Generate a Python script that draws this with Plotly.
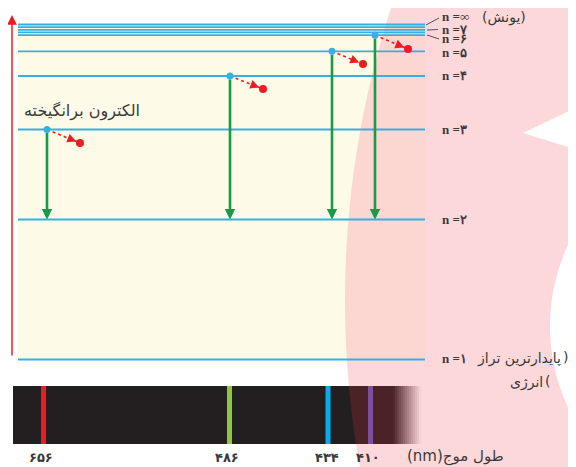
import numpy as np
import plotly.graph_objects as go

W, H = 576, 467
PAGE_MARGIN = 8  # default body margin of the html page
FA = str.maketrans("0123456789", "۰۱۲۳۴۵۶۷۸۹")

# ---- data ----
# energy levels: schematic vertical position (px from top of the window)
level_n = ["∞", "9", "8", "7", "6", "5", "4", "3", "2", "1"]
level_y = [24.5, 27.2, 29.8, 32.4, 35.2, 51.3, 76.0, 129.5, 219.5, 359.5]
level_x_start, level_x_end = 18, 425

# labelled levels and where their labels sit
label_n = ["∞", "7", "6", "5", "4", "3", "2", "1"]
label_y = [16.5, 29, 38.5, 52.5, 75.5, 129.5, 219.5, 358]

# Balmer transitions (upper level -> n=2)
trans_upper = ["3", "4", "5", "6"]
trans_x = [47, 230, 332, 375]
electron_end_x = [80, 263, 363, 408]
electron_end_y = [143, 89, 64, 49]

# emission spectrum
wavelengths = [656, 486, 434, 410]
spec_x = [43.5, 229.5, 328, 370.5]
spec_label_x = [41, 227, 327, 368]
spec_colors = ["#ed1c24", "#8dc63f", "#00aeef", "#7f4f9f"]

BLUE = "#35b0e5"
RED = "#ed1c24"
GREEN = "#1a9a48"
TXT = "#3a3a3a"

lvl = dict(zip(level_n, level_y))

fig = go.Figure()
shapes = []

# pale yellow panel
shapes.append(dict(type="rect", xref="x", yref="y", x0=18, x1=425, y0=24, y1=359.5,
                   fillcolor="#fdfbe7", line=dict(width=0), layer="below"))
# large pink disc
CX, CY, R = 1295, 300, 950
shapes.append(dict(type="circle", xref="x", yref="y", x0=CX - R, x1=CX + R, y0=CY - R, y1=CY + R,
                   fillcolor="rgba(252,190,193,0.6)", line=dict(width=0), layer="below"))
# white triangle and white arc on the right
shapes.append(dict(type="path", xref="x", yref="y", path="M 523,133 L 571,110 L 571,148 Z",
                   fillcolor="white", line=dict(width=0), layer="below"))
shapes.append(dict(type="circle", xref="x", yref="y", x0=550, x1=934, y0=134, y1=518,
                   fillcolor="white", line=dict(width=0), layer="below"))
# spectrum bar
BY0, BY1, BX0, BX1 = 386, 444, 13, 393
shapes.append(dict(type="rect", xref="x", yref="y", x0=BX0, x1=BX1, y0=BY0, y1=BY1,
                   fillcolor="#231f20", line=dict(width=0), layer="below"))
ys = np.linspace(BY0, BY1, 12)
xs = CX - np.sqrt(R ** 2 - (ys - CY) ** 2)
p = "M " + " L ".join(f"{x:.1f},{y:.1f}" for x, y in zip(xs, ys))
p += f" L {BX1},{BY1} L {BX1},{BY0} Z"
shapes.append(dict(type="path", xref="x", yref="y", path=p,
                   fillcolor="#4b2327", line=dict(width=0), layer="below"))
c0 = np.array([75, 34, 38]); c1 = np.array([253, 216, 218])
nstep = 14
for i in range(nstep):
    t = (i + 0.5) / nstep
    c = (c0 * (1 - t) + c1 * t).astype(int)
    shapes.append(dict(type="rect", xref="x", yref="y", x0=BX1 + 2 * i, x1=BX1 + 2 * i + 2.2,
                       y0=BY0, y1=BY1, fillcolor=f"rgb({c[0]},{c[1]},{c[2]})",
                       line=dict(width=0), layer="below"))

# leader lines for crowded top labels
for (x0, y0, x1, y1) in [(426, 25, 439, 18), (427, 30, 438, 29.5), (427, 35, 439, 39)]:
    shapes.append(dict(type="line", xref="x", yref="y", x0=x0, y0=y0, x1=x1, y1=y1,
                       line=dict(color="#555", width=1)))

# energy level lines
lx, ly = [], []
for y in level_y:
    lx += [level_x_start, level_x_end, None]
    ly += [y, y, None]
fig.add_trace(go.Scatter(x=lx, y=ly, mode="lines", line=dict(color=BLUE, width=1.8),
                         hoverinfo="skip"))

# spectrum lines
for x, c in zip(spec_x, spec_colors):
    fig.add_trace(go.Scatter(x=[x, x], y=[BY0, BY1], mode="lines",
                             line=dict(color=c, width=5), hoverinfo="skip"))

# electrons leaving (dotted red paths)
for x, u, ex, ey in zip(trans_x, trans_upper, electron_end_x, electron_end_y):
    fig.add_trace(go.Scatter(x=[x, ex], y=[lvl[u], ey], mode="lines",
                             line=dict(color=RED, width=1.6, dash="dot"), hoverinfo="skip"))

annotations = []
# energy axis arrow
annotations.append(dict(x=12, y=15, ax=12, ay=357, xref="x", yref="y", axref="x", ayref="y",
                        text="", showarrow=True, arrowhead=2, arrowsize=1.3, arrowwidth=1.5,
                        arrowcolor=RED))
# green transition arrows
for x, u in zip(trans_x, trans_upper):
    annotations.append(dict(x=x, y=lvl["2"], ax=x, ay=lvl[u], xref="x", yref="y",
                            axref="x", ayref="y", text="", showarrow=True, arrowhead=2,
                            arrowsize=0.8, arrowwidth=2.6, arrowcolor=GREEN, startstandoff=2))
# small red arrowheads on electron paths
for x, u, ex, ey in zip(trans_x, trans_upper, electron_end_x, electron_end_y):
    y0 = lvl[u]
    d = np.hypot(ex - x, ey - y0)
    ux, uy = (ex - x) / d, (ey - y0) / d
    tx, ty = ex - 4 * ux, ey - 4 * uy
    annotations.append(dict(x=tx, y=ty, ax=tx - 8 * ux, ay=ty - 8 * uy, xref="x", yref="y",
                            axref="x", ayref="y", text="", showarrow=True, arrowhead=2,
                            arrowsize=1.5, arrowwidth=1.2, arrowcolor=RED))

# electron dots
fig.add_trace(go.Scatter(x=trans_x, y=[lvl[u] for u in trans_upper], mode="markers",
                         marker=dict(color=BLUE, size=7), hoverinfo="skip"))
fig.add_trace(go.Scatter(x=electron_end_x, y=electron_end_y, mode="markers",
                         marker=dict(color=RED, size=8), hoverinfo="skip"))

# level labels
for n, y in zip(label_n, label_y):
    annotations.append(dict(x=440, y=y, xref="x", yref="y", xanchor="left", yanchor="middle",
                            text=f"<b>n ={n.translate(FA)}</b>", showarrow=False,
                            font=dict(family="Liberation Serif, DejaVu Serif", size=13, color=TXT)))
annotations.append(dict(x=480, y=17, xref="x", yref="y", xanchor="left", yanchor="middle",
                        text="(یونش)", showarrow=False,
                        font=dict(family="DejaVu Sans", size=14, color=TXT)))

def txt(x, y, s, anchor, size=14):
    annotations.append(dict(x=x, y=y, xref="x", yref="y", xanchor=anchor, yanchor="middle",
                            text=s, showarrow=False,
                            font=dict(family="DejaVu Sans", size=size, color=TXT)))

# "(پایدارترین تراز انرژی)" split over two lines, parentheses placed explicitly
txt(563, 358, "پایدارترین تراز", "right")
txt(561, 357, ")", "left")
txt(545, 382, "انرژی", "right")
txt(543, 381, "(", "left")
txt(82, 111, "الکترون برانگیخته", "center", 16)

# spectrum tick labels
for x, wl in zip(spec_label_x, wavelengths):
    annotations.append(dict(x=x, y=457, xref="x", yref="y", xanchor="center", yanchor="middle",
                            text=f"<b>{str(wl).translate(FA)}</b>", showarrow=False,
                            font=dict(family="DejaVu Sans", size=13, color=TXT)))
annotations.append(dict(x=506, y=456, xref="x", yref="y", xanchor="right", yanchor="middle",
                        text="(nm)طول موج", showarrow=False,
                        font=dict(family="DejaVu Sans", size=15, color=TXT)))

# the page has an 8px body margin, so the figure is offset by it; compensate
fig.update_layout(
    width=W - PAGE_MARGIN, height=H - PAGE_MARGIN, margin=dict(l=0, r=0, t=0, b=0),
    paper_bgcolor="white", plot_bgcolor="white", showlegend=False,
    xaxis=dict(range=[PAGE_MARGIN, W], visible=False, fixedrange=True),
    yaxis=dict(range=[H, PAGE_MARGIN], visible=False, fixedrange=True),
    shapes=shapes, annotations=annotations,
)
fig.write_html("out.html")
